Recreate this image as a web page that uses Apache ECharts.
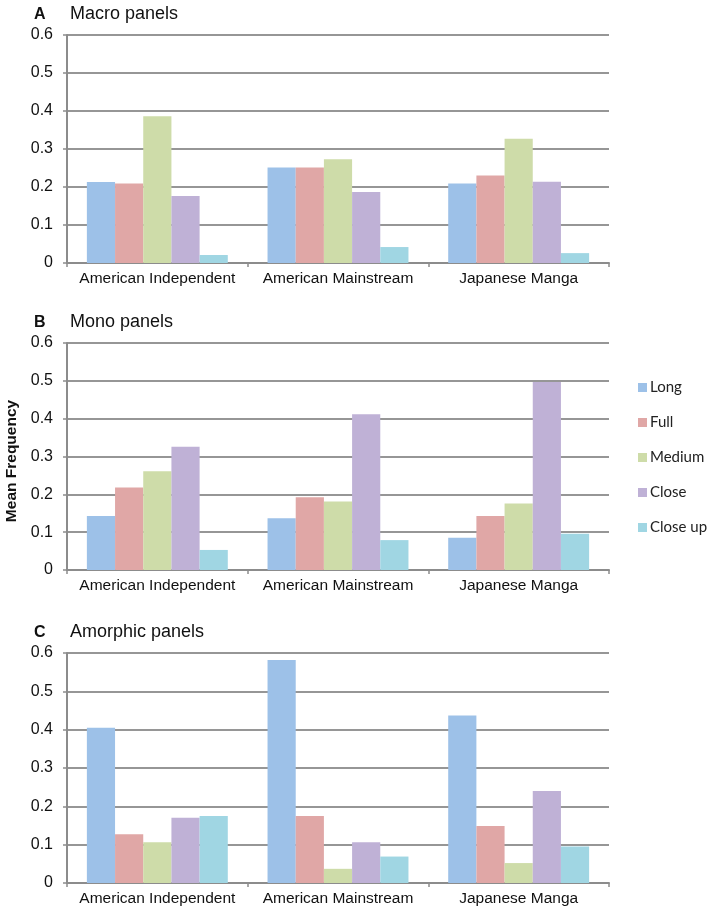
<!DOCTYPE html>
<html><head><meta charset="utf-8">
<script src="https://cdn.jsdelivr.net/npm/echarts@6/dist/echarts.min.js"></script>
<style>html,body{margin:0;padding:0;background:#fff}#c{width:708px;height:910px}</style>
</head><body><div id="c"></div>
<script>
var categories = ['American Independent', 'American Mainstream', 'Japanese Manga'];
var seriesNames = ['Long', 'Full', 'Medium', 'Close', 'Close up'];
var yTicks = [0, 0.1, 0.2, 0.3, 0.4, 0.5, 0.6];
var panelLetters = ['A', 'B', 'C'];
var panelTitles = ['Macro panels', 'Mono panels', 'Amorphic panels'];
// values per panel, per series (Long, Full, Medium, Close, Close up), per category
var macroLong = [0.213, 0.251, 0.209];
var macroFull = [0.209, 0.251, 0.230];
var macroMedium = [0.386, 0.273, 0.327];
var macroClose = [0.176, 0.187, 0.214];
var macroCloseUp = [0.021, 0.042, 0.026];
var monoLong = [0.143, 0.137, 0.085];
var monoFull = [0.218, 0.192, 0.143];
var monoMedium = [0.261, 0.181, 0.176];
var monoClose = [0.326, 0.412, 0.497];
var monoCloseUp = [0.053, 0.079, 0.096];
var amorphLong = [0.405, 0.582, 0.437];
var amorphFull = [0.127, 0.175, 0.149];
var amorphMedium = [0.106, 0.037, 0.052];
var amorphClose = [0.170, 0.106, 0.240];
var amorphCloseUp = [0.175, 0.069, 0.095];

var panels = [
  [macroLong, macroFull, macroMedium, macroClose, macroCloseUp],
  [monoLong, monoFull, monoMedium, monoClose, monoCloseUp],
  [amorphLong, amorphFull, amorphMedium, amorphClose, amorphCloseUp]
];
var colors = ['#9DC1E8', '#E0A7A6', '#CEDCA9', '#BFB1D6', '#A0D6E3'];
var grids = [{top: 35, bottom: 910 - 263}, {top: 343, bottom: 910 - 570}, {top: 653, bottom: 910 - 883}];
var font = 'Liberation Sans, Arial, sans-serif';

var option = {
  animation: false,
  backgroundColor: '#fff',
  color: colors,
  textStyle: {fontFamily: font},
  title: [],
  grid: [],
  xAxis: [],
  yAxis: [],
  series: [],
  legend: {
    data: seriesNames,
    orient: 'vertical',
    left: 633, top: 375,
    itemWidth: 9, itemHeight: 9,
    itemGap: 20,
    icon: 'rect',
    textStyle: {fontSize: 15, color: '#222', fontFamily: 'Lato, sans-serif', padding: [0,0,0,-2]}
  },
  graphic: [{
    type: 'text', x: 12, y: 461, rotation: Math.PI / 2,
    style: {text: 'Mean Frequency', font: 'bold 15.5px Liberation Sans, Arial, sans-serif', fill: '#111', align: 'center', verticalAlign: 'middle'}
  }]
};

for (var p = 0; p < 3; p++) {
  option.title.push({
    text: panelLetters[p], left: 29, top: grids[p].top - 33,
    textStyle: {fontSize: 16, fontWeight: 'bold', color: '#111', fontFamily: font}
  });
  option.title.push({
    text: panelTitles[p], left: 65, top: grids[p].top - 35,
    textStyle: {fontSize: 18, fontWeight: 'normal', color: '#111', fontFamily: font}
  });
  option.grid.push({left: 67, right: 99, top: grids[p].top, bottom: grids[p].bottom, containLabel: false});
  option.xAxis.push({
    type: 'category', gridIndex: p, data: categories,
    axisLine: {lineStyle: {color: '#8c8c8c', width: 2}},
    axisTick: {show: true, length: 4, lineStyle: {color: '#8c8c8c', width: 1.5}},
    axisLabel: {fontSize: 15.5, color: '#111', margin: 8, interval: 0, fontFamily: font}
  });
  option.yAxis.push({
    type: 'value', gridIndex: p, min: 0, max: 0.6, interval: 0.1,
    axisLine: {show: true, lineStyle: {color: '#8c8c8c', width: 2}},
    axisTick: {show: true, length: 4, lineStyle: {color: '#8c8c8c', width: 1.5}},
    splitLine: {lineStyle: {color: '#969696', width: 2}},
    axisLabel: {fontSize: 16, color: '#111', margin: 14, fontFamily: font,
      formatter: function (v) { return v === 0 ? '0' : v.toFixed(1); }}
  });
  for (var s = 0; s < 5; s++) {
    option.series.push({
      type: 'bar', name: seriesNames[s], xAxisIndex: p, yAxisIndex: p,
      data: panels[p][s], barGap: '0%', barCategoryGap: '22%',
      itemStyle: {color: colors[s]}
    });
  }
}
var chart = echarts.init(document.getElementById('c'), null, {renderer: 'canvas'});
chart.setOption(option);
</script></body></html>
